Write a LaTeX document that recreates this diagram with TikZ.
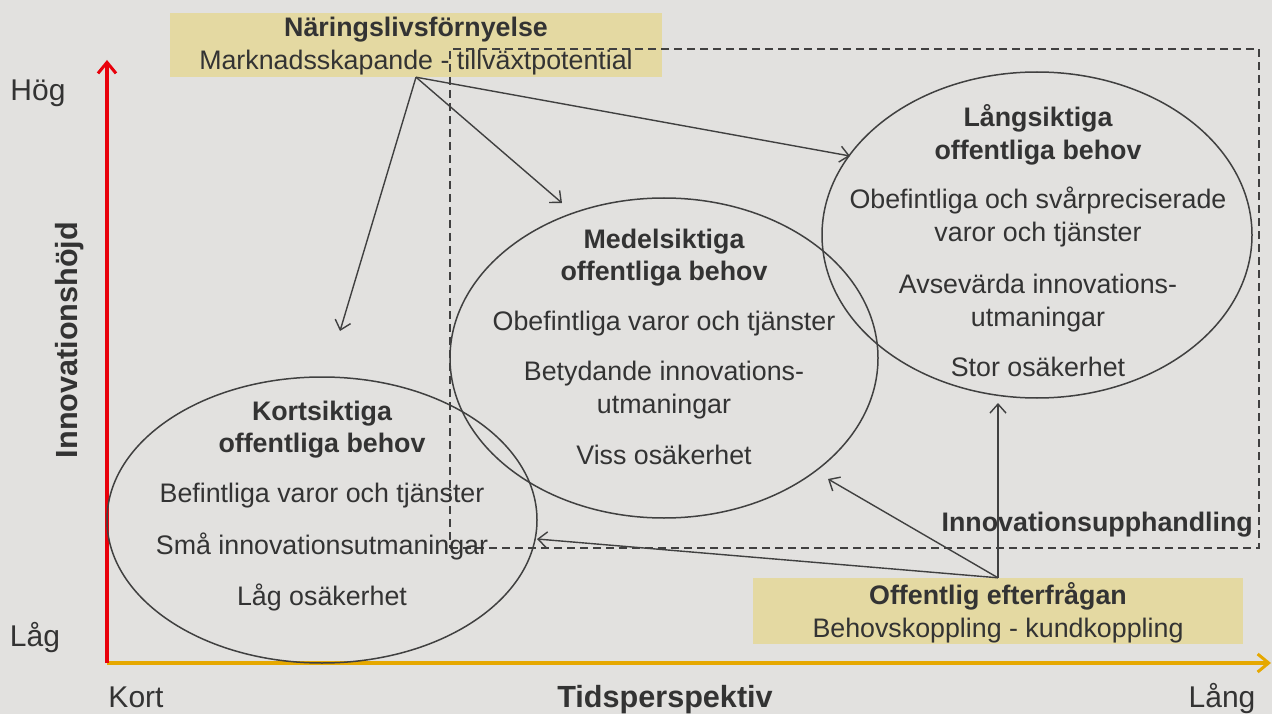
\documentclass[tikz,border=0pt]{standalone}
\usepackage{fontspec}
\setmainfont{Liberation Sans}
\usetikzlibrary{arrows.meta,shapes.geometric}
\definecolor{bg}{HTML}{E2E1DF}
\definecolor{boxy}{HTML}{E4D9A2}
\definecolor{ink}{HTML}{333333}
\definecolor{linec}{HTML}{404040}
\definecolor{axred}{HTML}{E8000B}
\definecolor{axorange}{HTML}{E6A800}
\begin{document}
\begin{tikzpicture}[x=1pt,y=-1pt,
  txt/.style={font=\fontsize{26.8}{30}\selectfont, text=ink, inner sep=0, text height=21pt, text depth=3pt, anchor=center},
  btxt/.style={txt, font=\fontsize{26.8}{30}\selectfont\bfseries},
  axlab/.style={font=\fontsize{30}{34}\selectfont, text=ink, inner sep=0, text height=24pt, text depth=3pt},
  baxlab/.style={axlab, font=\fontsize{30.6}{34}\selectfont\bfseries},
  ybox/.style={rectangle, fill=boxy, inner sep=0},
  need/.style={ellipse, draw=linec, line width=1.5pt, inner sep=0},
  conn/.style={draw=linec, line width=1.4pt, -{Straight Barb[length=9pt,width=16pt,line width=1.4pt]}},
  dashbox/.style={rectangle, draw=linec, line width=1.5pt, dash pattern=on 8pt off 5pt, inner sep=0}
]
\useasboundingbox (0,0) rectangle (1272,714);
\fill[bg] (0,0) rectangle (1272,714);

% axes
\coordinate (o) at (107,663);
\coordinate (ytop) at (107,60);
\coordinate (xend) at (1271,663);
\draw[axorange, line width=4pt, -{Straight Barb[length=11pt,width=18pt,line width=3pt]}] (o) -- (xend);
\draw[axred, line width=4pt, -{Straight Barb[length=11pt,width=18pt,line width=3pt]}] (o) -- (ytop);

\node[axlab] (hog) at (38,90) {Hög};
\node[axlab] (lag) at (35,636) {Låg};
\node[axlab] (kort) at (136,697) {Kort};
\node[axlab] (lang) at (1222,697) {Lång};
\node[baxlab] (tid) at (665,697) {Tidsperspektiv};
\node[baxlab, rotate=90] (hojd) at (67,340) {Innovationshöjd};

% boxes
\node[ybox, minimum width=492pt, minimum height=64pt] (nar) at (416,45) {};
\node[btxt] (nart) at (416,28) {Näringslivsförnyelse};
\node[txt] (nars) at (416,61) {Marknadsskapande - tillväxtpotential};

\node[ybox, minimum width=490pt, minimum height=66pt] (off) at (998,611) {};
\node[btxt] (offt) at (998,595) {Offentlig efterfrågan};
\node[txt] (offs) at (998,628) {Behovskoppling - kundkoppling};

% dashed region
\node[dashbox, minimum width=809pt, minimum height=499pt] (ipb) at (854.5,298.5) {};
\node[btxt, anchor=east] (ipt) at (1253,522) {Innovationsupphandling};

% ellipses
\node[need, minimum width=430pt, minimum height=286pt] (ks) at (322,520) {};
\node[need, minimum width=428pt, minimum height=320pt] (ms) at (664,358) {};
\node[need, minimum width=430pt, minimum height=326pt] (ls) at (1037,235) {};

% kortsiktiga texts
\node[btxt] (ks1) at (322,411) {Kortsiktiga};
\node[btxt] (ks2) at (322,443) {offentliga behov};
\node[txt] (ks3) at (322,493) {Befintliga varor och tjänster};
\node[txt] (ks4) at (322,545) {Små innovationsutmaningar};
\node[txt] (ks5) at (322,596) {Låg osäkerhet};

% medelsiktiga texts
\node[btxt] (ms1) at (664,240) {Medelsiktiga};
\node[btxt] (ms2) at (664,271) {offentliga behov};
\node[txt] (ms3) at (664,321) {Obefintliga varor och tjänster};
\node[txt] (ms4) at (664,371) {Betydande innovations-};
\node[txt] (ms5) at (664,404) {utmaningar};
\node[txt] (ms6) at (664,455) {Viss osäkerhet};

% langsiktiga texts
\node[btxt] (ls1) at (1038,118) {Långsiktiga};
\node[btxt] (ls2) at (1038,151) {offentliga behov};
\node[txt] (ls3) at (1038,200) {Obefintliga och svårpreciserade};
\node[txt] (ls4) at (1038,233) {varor och tjänster};
\node[txt] (ls5) at (1038,284) {Avsevärda innovations-};
\node[txt] (ls6) at (1038,317) {utmaningar};
\node[txt] (ls7) at (1038,367) {Stor osäkerhet};

% arrow targets
\coordinate (t1) at (340,331);
\coordinate (t2) at (562,203);
\coordinate (t3) at (850,156);
\coordinate (t4) at (537,539);
\coordinate (t5) at (828,479);
\coordinate (t6) at (998,403);

\draw[conn] (nar.south) -- (t1);
\draw[conn] (nar.south) -- (t2);
\draw[conn] (nar.south) -- (t3);
\draw[conn] (off.north) -- (t4);
\draw[conn] (off.north) -- (t5);
\draw[conn] (off.north) -- (t6);
\end{tikzpicture}
\end{document}
